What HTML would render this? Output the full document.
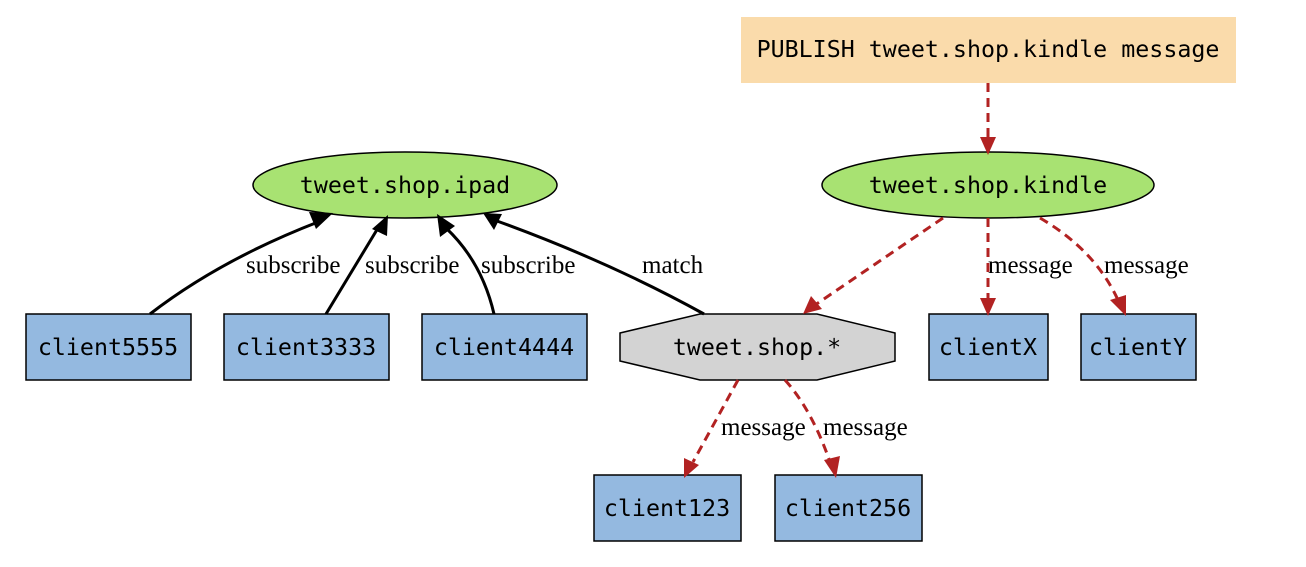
<!DOCTYPE html>
<html><head><meta charset="utf-8"><style>
html,body{margin:0;padding:0;background:#fff;}
svg{display:block;}
.m{font-family:"DejaVu Sans Mono","Liberation Mono",monospace;font-size:23.3px;fill:#000;}
.l{font-family:"Liberation Serif",serif;font-size:25px;fill:#000;}
</style></head><body>
<svg width="1306" height="567" viewBox="0 0 1306 567" xmlns="http://www.w3.org/2000/svg">
<rect x="741" y="17" width="495" height="66" fill="#fadbab"/>
<text class="m" x="988" y="57" text-anchor="middle">PUBLISH tweet.shop.kindle message</text>
<ellipse cx="405" cy="185" rx="152" ry="33" fill="#a8e272" stroke="#000" stroke-width="1.5"/>
<text class="m" x="405" y="193" text-anchor="middle">tweet.shop.ipad</text>
<ellipse cx="988" cy="185" rx="166" ry="33" fill="#a8e272" stroke="#000" stroke-width="1.5"/>
<text class="m" x="988" y="193" text-anchor="middle">tweet.shop.kindle</text>
<g fill="#94b9e0" stroke="#000" stroke-width="1.5">
<rect x="26" y="314" width="165" height="66"/>
<rect x="224" y="314" width="165" height="66"/>
<rect x="422" y="314" width="165" height="66"/>
<rect x="929" y="314" width="119" height="66"/>
<rect x="1081" y="314" width="115" height="66"/>
<rect x="594" y="475" width="147" height="66"/>
<rect x="775" y="475" width="147" height="66"/>
</g>
<polygon points="700,314 817,314 895,333 895,361 817,380 700,380 620,361 620,333" fill="#d3d3d3" stroke="#000" stroke-width="1.5"/>
<g class="m" text-anchor="middle">
<text x="108" y="355">client5555</text>
<text x="306" y="355">client3333</text>
<text x="504" y="355">client4444</text>
<text x="988" y="355">clientX</text>
<text x="1138" y="355">clientY</text>
<text x="757" y="355">tweet.shop.*</text>
<text x="667" y="516">client123</text>
<text x="848" y="516">client256</text>
</g>
<g fill="none" stroke="#000" stroke-width="3">
<path d="M150,314 Q220,260 318,222"/>
<path d="M326,314 L378,228"/>
<path d="M494,314 Q482,262 446,228"/>
<path d="M704,314 Q610,262 497,221"/>
</g>
<g fill="#000">
<polygon points="333,213 309,212 316,229"/>
<polygon points="388,215 372,229 387,236"/>
<polygon points="437,214 440,237 455,226"/>
<polygon points="483,213 494,230 502,214"/>
</g>
<g fill="none" stroke="#b22222" stroke-width="3" stroke-dasharray="9,6">
<path d="M988,83 L988,140"/>
<path d="M943,218 L815,305"/>
<path d="M988,218 L988,300"/>
<path d="M1040,218 Q1095,250 1118,300"/>
<path d="M738,380 L693,462"/>
<path d="M785,380 Q812,410 830,462"/>
</g>
<g fill="#b22222">
<polygon points="988,155 980,137 996,137"/>
<polygon points="803,314 811,296 822,309"/>
<polygon points="988,316 980,298 996,298"/>
<polygon points="1126,316 1110,300 1126,295"/>
<polygon points="684,478 684,458 699,465"/>
<polygon points="836,478 824,460 840,456"/>
</g>
<g class="l">
<text x="246" y="273">subscribe</text>
<text x="365" y="273">subscribe</text>
<text x="481" y="273">subscribe</text>
<text x="642" y="273">match</text>
<text x="988" y="273">message</text>
<text x="1104" y="273">message</text>
<text x="721" y="435">message</text>
<text x="823" y="435">message</text>
</g>
</svg>
</body></html>
